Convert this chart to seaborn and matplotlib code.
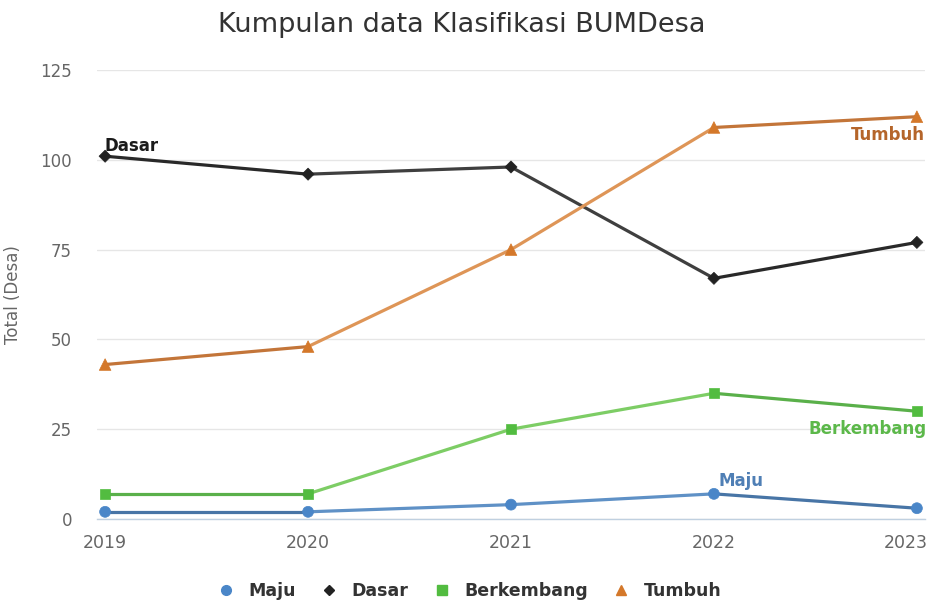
import pandas as pd
import numpy as np
import matplotlib
matplotlib.use('Agg')
import matplotlib.pyplot as plt
import matplotlib.transforms as mtransforms
import seaborn as sns
from matplotlib.colors import to_rgb
from matplotlib.lines import Line2D

### data
years = ['2019', '2020', '2021', '2022', '2023']
series_names = ['Maju', 'Dasar', 'Berkembang', 'Tumbuh']
maju = [2, 2, 4, 7, 3]
dasar = [101, 96, 98, 67, 77]
berkembang = [7, 7, 25, 35, 30]
tumbuh = [43, 48, 75, 109, 112]

# dark colour at the chart edges, light colour in the middle (gradient lines)
dark = {'Maju': '#3d6796', 'Dasar': '#1e1e1e', 'Berkembang': '#48a23c', 'Tumbuh': '#b5652a'}
light = {'Maju': '#6a9fd6', 'Dasar': '#4a4a4a', 'Berkembang': '#8fdb72', 'Tumbuh': '#eca566'}
marker_col = {'Maju': '#4a86c8', 'Dasar': '#222222', 'Berkembang': '#52bc40', 'Tumbuh': '#d4782a'}
label_col = {'Maju': '#4f7fb5', 'Dasar': '#1a1a1a', 'Berkembang': '#5cb84a', 'Tumbuh': '#b5652a'}
markers = {'Maju': 'o', 'Dasar': 'D', 'Berkembang': 's', 'Tumbuh': '^'}
msizes = {'Maju': 62, 'Dasar': 38, 'Berkembang': 55, 'Tumbuh': 70}


def get_data_as_df():
    values = {'Maju': maju, 'Dasar': dasar, 'Berkembang': berkembang, 'Tumbuh': tumbuh}
    rows = []
    for name in series_names:
        for i, yr in enumerate(years):
            rows.append({'series': name, 'year': yr, 'pos': i, 'total': values[name][i]})
    return pd.DataFrame(rows)


def mix(c1, c2, t):
    a = np.array(to_rgb(c1))
    b = np.array(to_rgb(c2))
    return tuple(a + (b - a) * t)


def draw_chart(df):
    sns.set_style('white')
    plt.rcParams['font.family'] = ['DejaVu Sans']
    fig = plt.figure(figsize=(9.3, 6.03), dpi=100)
    ax = fig.add_axes([97 / 930, 84 / 603, 828 / 930, 449 / 603])

    n = len(years)
    mid = (n - 1) / 2
    for name in series_names:
        d = df[df['series'] == name]
        xs = d['pos'].values
        ys = d['total'].values
        # one segment at a time so the colour can fade towards the middle
        for i in range(n - 1):
            xm = (xs[i] + xs[i + 1]) / 2
            t = 1 - abs(xm - mid) / mid
            ax.plot(xs[i:i + 2], ys[i:i + 2], color=mix(dark[name], light[name], t),
                    lw=2.3, solid_capstyle='round', zorder=3)

    sns.scatterplot(data=df, x='pos', y='total', hue='series', style='series',
                    palette=marker_col, markers=markers, size='series', sizes=msizes,
                    edgecolor='none', legend=False, zorder=4, ax=ax)
    for coll in ax.collections:
        coll.set_edgecolor('face')
        coll.set_linewidth(0.5)

    # data labels
    ax.text(-0.005, dasar[0] + 0.3, 'Dasar', color=label_col['Dasar'], fontsize=12,
            fontweight='bold', ha='left', va='bottom')
    ax.text(n - 1 + 0.04, tumbuh[-1] - 2.5, 'Tumbuh', color=label_col['Tumbuh'], fontsize=12,
            fontweight='bold', ha='right', va='top')
    ax.text(n - 1 + 0.05, berkembang[-1] - 2.5, 'Berkembang', color=label_col['Berkembang'],
            fontsize=12, fontweight='bold', ha='right', va='top')
    ax.text(3 + 0.02, maju[3] + 1.2, 'Maju', color=label_col['Maju'], fontsize=12,
            fontweight='bold', ha='left', va='bottom')

    ax.set_xlim(-0.04, n - 1 + 0.04)
    ax.set_ylim(0, 125)
    ax.set_yticks([0, 25, 50, 75, 100, 125])
    ax.set_xticks(range(n))
    ax.set_xticklabels(years)
    ax.tick_params(axis='y', length=0, pad=18, labelsize=12, labelcolor='#666666')
    ax.tick_params(axis='x', length=8, width=1, color='#c0d0e0', pad=3,
                   labelsize=12.5, labelcolor='#666666')
    # keep the last year label inside the figure
    last = ax.get_xticklabels()[-1]
    last.set_transform(last.get_transform() +
                       mtransforms.ScaledTranslation(-11 / 100, 0, fig.dpi_scale_trans))
    ax.yaxis.grid(True, color='#e6e6e6', lw=1)
    ax.set_axisbelow(True)
    for s in ['top', 'right', 'left']:
        ax.spines[s].set_visible(False)
    ax.spines['bottom'].set_color('#c0d0e0')
    ax.spines['bottom'].set_linewidth(1)

    ax.set_xlabel('')
    ax.set_ylabel('Total (Desa)', fontsize=12, color='#666666')
    ax.yaxis.set_label_coords((22 - 97) / 828, 0.5)
    fig.text(0.5 - 3 / 930, 1 - 25 / 603, 'Kumpulan data Klasifikasi BUMDesa', ha='center',
             va='center', fontsize=19.5, color='#333333')

    handles = []
    for name in series_names:
        ms = 7 if name != 'Dasar' else 5.5
        handles.append(Line2D([], [], marker=markers[name], color=marker_col[name],
                              linestyle='none', markersize=ms))
    leg = fig.legend(handles, series_names, loc='center', bbox_to_anchor=(0.5, 1 - 591 / 603),
                     ncol=4, frameon=False, handletextpad=0.3, columnspacing=0.9,
                     prop={'weight': 'bold', 'size': 12.5})
    for t in leg.get_texts():
        t.set_color('#333333')

    plt.savefig('out.png', dpi=100)


if __name__ == "__main__":
    df = get_data_as_df()
    draw_chart(df)
